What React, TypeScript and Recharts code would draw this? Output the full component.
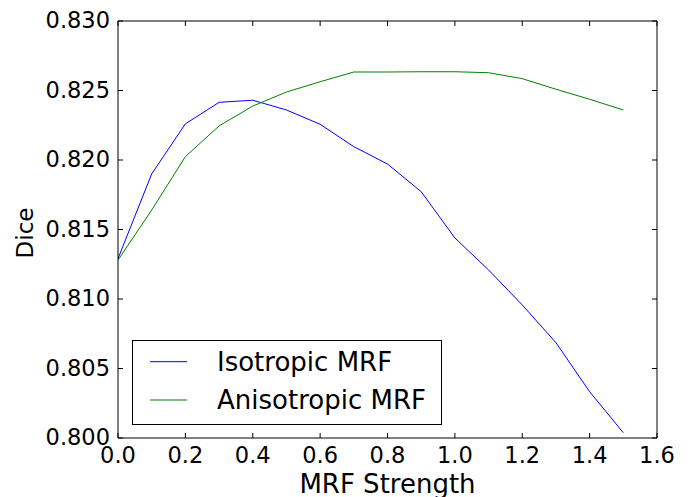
import React from 'react';
import { LineChart, Line, XAxis, YAxis, Legend, Label } from 'recharts';

const strengths = [0.0, 0.1, 0.2, 0.3, 0.4, 0.5, 0.6, 0.7, 0.8, 0.9, 1.0, 1.1, 1.2, 1.3, 1.4, 1.5];
const isotropic = [0.8129, 0.8190, 0.8226, 0.82415, 0.8243, 0.8236, 0.82257, 0.82096, 0.81971, 0.81772, 0.81439, 0.81209, 0.80957, 0.80686, 0.80333, 0.80038];
const anisotropic = [0.8128, 0.8164, 0.82024, 0.82245, 0.82388, 0.82489, 0.82563, 0.82633, 0.82633, 0.82635, 0.82635, 0.82628, 0.82585, 0.82509, 0.82437, 0.8236];
const xTicks = [0, 0.2, 0.4, 0.6, 0.8, 1.0, 1.2, 1.4, 1.6];
const yTicks = [0.8, 0.805, 0.81, 0.815, 0.82, 0.825, 0.83];
const seriesNames = ['Isotropic MRF', 'Anisotropic MRF'];

const data = strengths.map((s, i) => ({ x: s, iso: isotropic[i], aniso: anisotropic[i] }));

const FONT = '"DejaVu Sans", sans-serif';
const TL = 5;
const TICK_FS = 22.5;
const LABEL_FS = 26;

const BottomTick = (props: any) => {
  const { x, y, payload } = props;
  return (
    <g>
      <line x1={x} x2={x} y1={y} y2={y - TL} stroke="#000" strokeWidth={1} />
      <text x={x} y={y + 25} textAnchor="middle" fontSize={TICK_FS} fontFamily={FONT} fill="#000">
        {Number(payload.value).toFixed(1)}
      </text>
    </g>
  );
};
const TopTick = (props: any) => {
  const { x, y } = props;
  return <line x1={x} x2={x} y1={y} y2={y + TL} stroke="#000" strokeWidth={1} />;
};
const LeftTick = (props: any) => {
  const { x, y, payload } = props;
  return (
    <g>
      <line x1={x} x2={x + TL} y1={y} y2={y} stroke="#000" strokeWidth={1} />
      <text x={x - 8} y={y - 1} textAnchor="end" dominantBaseline="central" fontSize={TICK_FS} fontFamily={FONT} fill="#000">
        {Number(payload.value).toFixed(3)}
      </text>
    </g>
  );
};
const RightTick = (props: any) => {
  const { x, y } = props;
  return <line x1={x} x2={x - TL} y1={y} y2={y} stroke="#000" strokeWidth={1} />;
};

const LegendBox = (props: any) => {
  const raw = (props.payload || []).filter((p: any) => seriesNames.includes(p.value));
  const payload = seriesNames.map((n) => raw.find((p: any) => p.value === n)).filter(Boolean);
  const lineY = [21.7, 60];
  const textY = [30.7, 69.3];
  return (
    <svg width={311} height={86} style={{ display: 'block' }}>
      <rect x={0.5} y={0.5} width={309} height={84} fill="#fff" stroke="#000" strokeWidth={1} />
      {payload.map((p: any, i: number) => (
        <g key={p.value}>
          <line x1={18} x2={55} y1={lineY[i]} y2={lineY[i]} stroke={p.color} strokeWidth={1} />
          <text x={85} y={textY[i]} fontSize={LABEL_FS} fontFamily={FONT} fill="#000">
            {p.value}
          </text>
        </g>
      ))}
    </svg>
  );
};

export default function App() {
  return (
    <div style={{ position: 'absolute', left: 0, top: 0, background: '#fff' }}>
      <LineChart width={691} height={497} data={data} margin={{ top: 20, right: 33, bottom: 0, left: 0 }}>
        <XAxis
          xAxisId="b"
          dataKey="x"
          type="number"
          domain={[0, 1.6]}
          ticks={xTicks}
          orientation="bottom"
          height={59}
          tickSize={0}
          tickMargin={0}
          tickLine={false}
          axisLine={{ stroke: '#000', strokeWidth: 1 }}
          tick={<BottomTick />}
          interval={0}
          allowDataOverflow
          label={
            <Label
              content={(p: any) => {
                const vb = p.viewBox || {};
                return (
                  <text x={vb.x + vb.width / 2} y={493} textAnchor="middle" fontSize={LABEL_FS} fontFamily={FONT} fill="#000">
                    MRF Strength
                  </text>
                );
              }}
            />
          }
        />
        <XAxis
          xAxisId="t"
          dataKey="x"
          type="number"
          domain={[0, 1.6]}
          ticks={xTicks}
          orientation="top"
          height={1}
          tickSize={0}
          tickMargin={0}
          tickLine={false}
          axisLine={{ stroke: '#000', strokeWidth: 1 }}
          tick={<TopTick />}
          interval={0}
          allowDataOverflow
        />
        <YAxis
          yAxisId="l"
          type="number"
          domain={[0.8, 0.83]}
          ticks={yTicks}
          orientation="left"
          width={118}
          tickSize={0}
          tickMargin={0}
          tickLine={false}
          axisLine={{ stroke: '#000', strokeWidth: 1 }}
          tick={<LeftTick />}
          interval={0}
          allowDataOverflow
          label={
            <Label
              content={() => (
                <text x={33} y={233} textAnchor="middle" transform="rotate(-90 33 233)" fontSize={23} fontFamily={FONT} fill="#000">
                  Dice
                </text>
              )}
            />
          }
        />
        <YAxis
          yAxisId="r"
          type="number"
          domain={[0.8, 0.83]}
          ticks={yTicks}
          orientation="right"
          width={1}
          tickSize={0}
          tickMargin={0}
          tickLine={false}
          axisLine={{ stroke: '#000', strokeWidth: 1 }}
          tick={<RightTick />}
          interval={0}
          allowDataOverflow
        />
        <Line xAxisId="b" yAxisId="l" type="linear" dataKey="iso" name={seriesNames[0]} stroke="#0000ff" strokeWidth={1} dot={false} isAnimationActive={false} />
        <Line xAxisId="b" yAxisId="l" type="linear" dataKey="aniso" name={seriesNames[1]} stroke="#008000" strokeWidth={1} dot={false} isAnimationActive={false} />
        <Legend
          layout="horizontal"
          verticalAlign="middle"
          align="center"
          content={<LegendBox />}
          wrapperStyle={{ position: 'absolute', left: 132, top: 340, width: 311, height: 86 }}
        />
      </LineChart>
    </div>
  );
}
